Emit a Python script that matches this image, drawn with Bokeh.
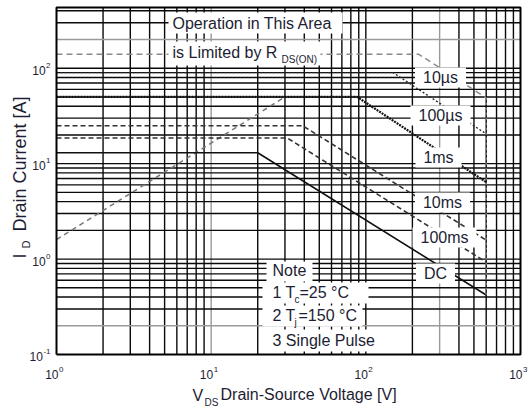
import math
from bokeh.plotting import figure
from bokeh.models import Range1d, Label, BoxAnnotation
from bokeh.embed import file_html
from bokeh.resources import INLINE

# ---------------- data ----------------
curve_names = ["10µs", "100µs", "1ms", "10ms", "100ms", "DC"]
i_limit = [140, 90, 50, 25, 18.6, 13]          # flat current limit [A]
v_knee = [220, 150, 88, 39, 31, 20]            # voltage where the curve starts falling [V]
v_max = 600                                    # BVdss end of the curves [V]
i_at_vmax = [49, 20.5, 6.4, 1.58, 0.93, 0.42]  # current at v_max [A]
rds_v = [1, 30]                                # R_DS(on) limit line
rds_i = [1.6, 50]
x_decades = [1, 10, 100, 1000]
x_exps = ["0", "1", "2", "3"]
y_decades = [0.1, 1, 10, 100]
y_exps = ["-1", "0", "1", "2"]
note_lines = ["Note", "3 Single Pulse"]

X_LO, X_HI = 1, 1000          # plotted voltage range
Y_LO, Y_HI = 0.1, 433         # plotted current range

# ---------------- styles ----------------
curve_styles = [
    dict(line_color="#8a8a8a", line_dash="6 4", line_width=1.5),
    dict(line_color="#2a2a2a", line_dash="2 2", line_width=1.4),
    dict(line_color="#111111", line_dash="2 1", line_width=2.2),
    dict(line_color="#333333", line_dash="5 3", line_width=1.6),
    dict(line_color="#333333", line_dash="5 3", line_width=1.6),
    dict(line_color="#111111", line_dash="solid", line_width=1.6),
]
TXT = "#1d1d33"
FONT = "Liberation Sans"

# ---------------- geometry: the plot box inside a full-size frame ----------------
W, H = 530, 410
PX0, PX1 = 56, 520            # page px of X_LO, X_HI
PY1, PY0 = 7, 354             # page px of Y_HI, Y_LO
PXD = (PX1 - PX0) / math.log10(X_HI / X_LO)
PYD = (PY0 - PY1) / math.log10(Y_HI / Y_LO)

def vx(px):
    return X_LO * 10 ** ((px - PX0) / PXD)

def iy(py):
    return Y_LO * 10 ** ((PY0 - py) / PYD)

def px_of_x(v):
    return PX0 + math.log10(v / X_LO) * PXD

def py_of_y(v):
    return PY0 - math.log10(v / Y_LO) * PYD

p = figure(width=W, height=H, x_axis_type="log", y_axis_type="log",
           x_range=Range1d(vx(0), vx(W)), y_range=Range1d(iy(H), iy(0)),
           output_backend="svg", toolbar_location=None,
           min_border_left=0, min_border_right=0, min_border_top=0, min_border_bottom=0)
p.xaxis.visible = False
p.yaxis.visible = False
p.xgrid.visible = False
p.ygrid.visible = False
p.background_fill_color = "white"
p.border_fill_color = "white"
p.outline_line_color = None

# ---------------- grid (log minor lines inside the plot box) ----------------
xg = [m * 10 ** k for k in range(0, 3) for m in range(2, 10)] + [10, 100]
yg = [m * 10.0 ** k for k in range(-1, 3) for m in range(1, 10)
      if Y_LO < m * 10.0 ** k <= Y_HI]
grey_x = [10, 300]
grey_y = [0.2, 200]
xcol = ["#9a9a9a" if any(abs(t - g) < 1e-9 for g in grey_x) else "#0a0a0a" for t in xg]
ycol = ["#9a9a9a" if any(abs(t - g) < 1e-9 for g in grey_y) else "#0a0a0a" for t in yg]
p.segment(x0=xg, y0=[Y_LO] * len(xg), x1=xg, y1=[Y_HI] * len(xg),
          line_color=xcol, line_width=1.4)
p.segment(x0=[X_LO] * len(yg), y0=yg, x1=[X_HI] * len(yg), y1=yg,
          line_color=ycol, line_width=1.4)

# ---------------- curves ----------------
p.line(rds_v, rds_i, line_color="#777777", line_dash="5 4", line_width=1.5)
for name, il, vk, ie, st in zip(curve_names, i_limit, v_knee, i_at_vmax, curve_styles):
    p.line([X_LO, vk, v_max], [il, il, ie], **st)
p.line([v_max, v_max], [i_at_vmax[0], i_at_vmax[-1]], line_color="#8a8a8a",
       line_dash="2 3", line_width=1.3)

# plot box
p.line([X_LO, X_HI, X_HI, X_LO, X_LO], [Y_LO, Y_LO, Y_HI, Y_HI, Y_LO],
       line_color="#000000", line_width=2)

# ---------------- annotation helpers ----------------
def wbox(x0, x1, y0, y1):
    p.add_layout(BoxAnnotation(left=vx(x0), right=vx(x1), top=iy(y0), bottom=iy(y1),
                               fill_color="white", fill_alpha=1, line_color=None))

def txt(x, y, s, size=16, align="left", baseline="middle", angle=0):
    p.add_layout(Label(x=x, y=y, text=s, text_font=FONT, text_font_size=f"{size}px",
                       text_color=TXT, text_align=align, text_baseline=baseline, angle=angle))

def tpx(px, py, s, **kw):
    txt(vx(px), iy(py), s, **kw)

# title boxes
wbox(168, 342, 12, 33)
tpx(172, 22.5, "Operation in This Area")
wbox(168, 320, 41, 65)
tpx(172, 52, "is Limited by R")
tpx(281, 59, "DS(ON)", size=10)

# curve labels
label_pos = [(440, 77), (440, 115), (438, 157), (442, 202), (444, 237), (435, 273)]
label_w = [35, 44, 30, 39, 48, 23]
for name, (cx, cy), w in zip(curve_names, label_pos, label_w):
    wbox(cx - w / 2 - 8, cx + w / 2 + 8, cy - 10, cy + 10)
    tpx(cx, cy, name, align="center")

# note box
wbox(266, 312, 261, 281)
tpx(272, 270, note_lines[0])
wbox(262, 368, 282, 303)
tpx(272, 292, "1 T")
tpx(294, 299, "c", size=10)
tpx(299, 292, "=25 °C")
wbox(262, 362, 305, 326)
tpx(272, 315, "2 T")
tpx(294, 322, "j", size=10)
tpx(298, 315, "=150 °C")
wbox(262, 374, 329, 351)
tpx(272, 340, note_lines[1])

# tick labels (y)
for v, e in zip(y_decades, y_exps):
    py = py_of_y(v)
    sup_w = 8 * (0.556 * len(e.replace("-", "")) + (0.333 if "-" in e else 0))
    sup_left = 50 - sup_w
    tpx(sup_left - 0.5, py + 2, "10", size=12, align="right")
    tpx(sup_left, py - 3, e, size=8)

# tick labels (x)
for v, e in zip(x_decades, x_exps):
    px = px_of_x(v)
    tpx(px + 2, 374, "10", size=12, align="right")
    tpx(px + 2.5, 369, e, size=8)

# axis titles
tpx(192, 395, "V", size=16)
tpx(204, 402, "DS", size=10)
tpx(220, 394, "Drain-Source Voltage [V]", size=16)
tpx(19, 258, "I", size=18, angle=math.pi / 2)
tpx(25, 248, "D", size=11, angle=math.pi / 2)
tpx(19, 231, "Drain Current [A]", size=18, angle=math.pi / 2)

open("out.html", "w").write(file_html(p, INLINE))
